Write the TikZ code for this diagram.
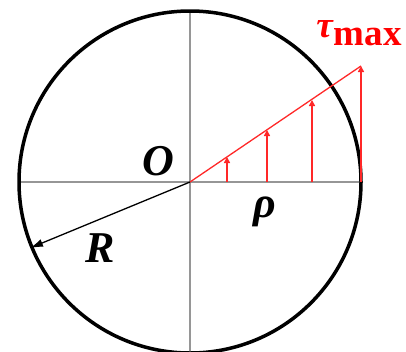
\documentclass[tikz,border=0pt]{standalone}
\usepackage{fontspec}
\setmainfont{Liberation Serif}
\usetikzlibrary{arrows.meta}
\definecolor{axisgray}{RGB}{150,150,150}
\definecolor{arrred}{RGB}{255,40,40}
\tikzset{
  axis/.style={draw=axisgray,line width=2.8pt},
  rim/.style={draw=black,line width=3.5pt},
  stressline/.style={draw=arrred,line width=1.3pt},
  stressarrow/.style={draw=arrred,line width=2pt,-{Triangle[length=6pt,width=6pt]}},
  radius arrow/.style={draw=black,line width=1.3pt,-{Latex[length=13pt,width=8pt]}},
  lbl/.style={font=\fontsize{44}{46}\selectfont\bfseries\itshape,inner sep=0pt},
  taulbl/.style={font=\fontsize{37}{39}\selectfont\bfseries,text=red,inner sep=0pt}
}
\begin{document}
\begin{tikzpicture}[x=1pt,y=-1pt]
\useasboundingbox (0,0) rectangle (406,351);
\coordinate (o) at (190,182);
\coordinate (hl) at (19,182);
\coordinate (hr) at (361,182);
\coordinate (vt) at (190,12);
\coordinate (vb) at (190,351);
\draw[axis] (hl) -- (hr);
\draw[axis] (vt) -- (vb);
\draw[rim] (o) circle (171);
% stress distribution
\coordinate (b1) at (227,182);
\coordinate (t1) at (227,157);
\coordinate (b2) at (267,182);
\coordinate (t2) at (267,130);
\coordinate (b3) at (312,182);
\coordinate (t3) at (312,100);
\coordinate (b4) at (361,182);
\coordinate (t4) at (361,66);
\draw[stressline] (o) -- (t4);
\draw[stressarrow] (b1) -- (t1);
\draw[stressarrow] (b2) -- (t2);
\draw[stressarrow] (b3) -- (t3);
\draw[stressarrow] (b4) -- (t4);
% radius
\coordinate (rtip) at (30,248);
\draw[radius arrow] (o) -- (rtip);
% labels
\node[lbl] (O) at (158,161) {O};
\node[lbl] (rho) at (265,212) {ρ};
\node[lbl] (R) at (100,248) {R};
\node[taulbl] (tau) at (359,33) {\textit{τ}\raisebox{-0.45ex}{max}};
\end{tikzpicture}
\end{document}
